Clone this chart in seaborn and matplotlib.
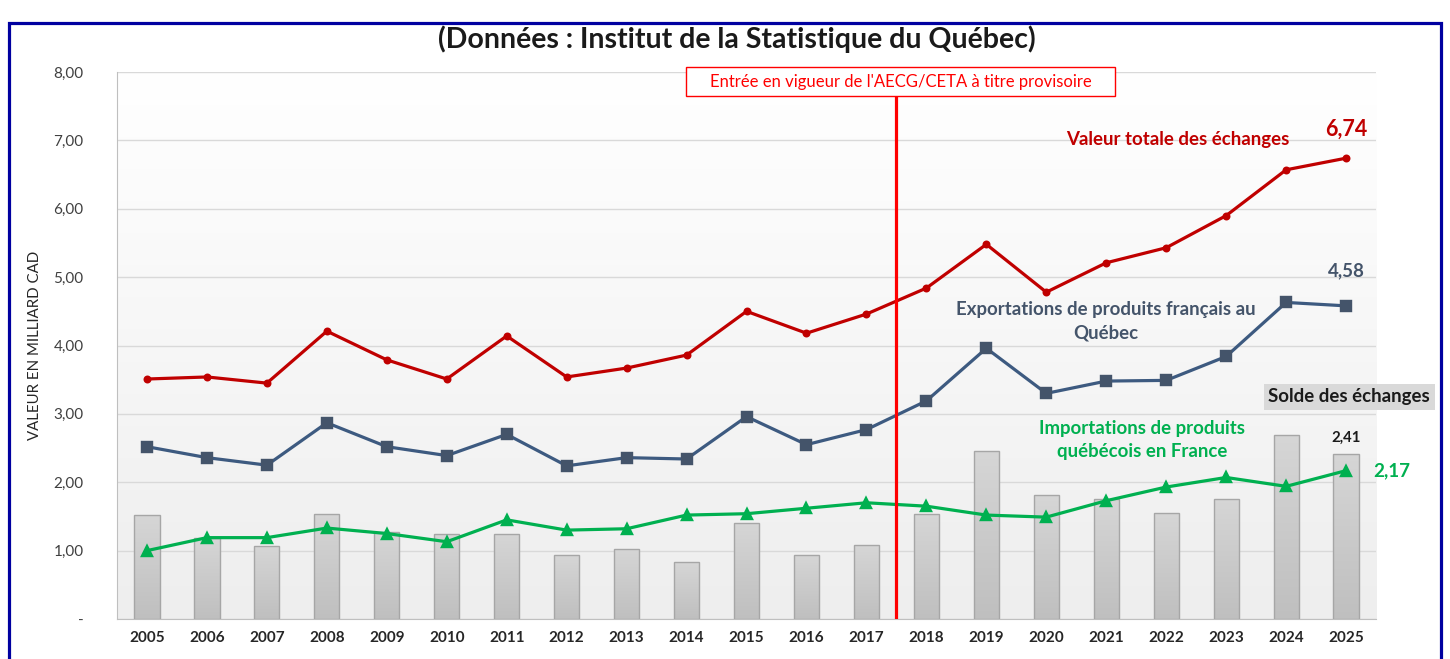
import matplotlib
matplotlib.use("Agg")
import matplotlib.pyplot as plt
import seaborn as sns
import numpy as np
import pandas as pd
from matplotlib.patches import Rectangle
from matplotlib.colors import LinearSegmentedColormap

#---------- Data ----------
years = [2005, 2006, 2007, 2008, 2009, 2010, 2011, 2012, 2013, 2014, 2015,
         2016, 2017, 2018, 2019, 2020, 2021, 2022, 2023, 2024, 2025]
total = [3.51, 3.54, 3.45, 4.21, 3.79, 3.51, 4.14, 3.54, 3.67, 3.86, 4.50,
         4.18, 4.46, 4.84, 5.48, 4.78, 5.21, 5.43, 5.90, 6.57, 6.74]
exports = [2.52, 2.36, 2.25, 2.87, 2.52, 2.39, 2.70, 2.24, 2.36, 2.34, 2.96,
           2.55, 2.77, 3.19, 3.96, 3.30, 3.48, 3.49, 3.84, 4.63, 4.58]
imports = [1.00, 1.19, 1.19, 1.33, 1.25, 1.13, 1.45, 1.30, 1.32, 1.52, 1.54,
           1.62, 1.70, 1.65, 1.52, 1.49, 1.73, 1.93, 2.07, 1.94, 2.17]
solde = [1.52, 1.19, 1.07, 1.54, 1.27, 1.25, 1.25, 0.94, 1.03, 0.83, 1.41,
         0.94, 1.08, 1.54, 2.45, 1.81, 1.75, 1.55, 1.76, 2.69, 2.41]
ytick_vals = [0, 1, 2, 3, 4, 5, 6, 7, 8]
ytick_labels = ["-", "1,00", "2,00", "3,00", "4,00", "5,00", "6,00", "7,00", "8,00"]

df = pd.DataFrame({"Année": years, "Total": total, "Exportations": exports,
                   "Importations": imports, "Solde": solde})

RED = "#c00000"
BLUE = "#3d5a80"
BLUE_MK = "#44546a"
GREEN = "#00b050"

sns.set_style("white")
plt.rcParams["font.family"] = ["Lato", "DejaVu Sans"]

fig = plt.figure(figsize=(14.5, 6.59), dpi=100)
ax = fig.add_axes([0.0807, 0.0607, 0.8683, 0.830])

# background gradient
grad = np.linspace(0, 1, 256).reshape(-1, 1)
ax.imshow(grad, extent=[-0.5, 20.5, 0, 8], aspect="auto",
          cmap=LinearSegmentedColormap.from_list("bg", ["#eeeeee", "#ffffff"]),
          origin="lower", zorder=0)

sns.barplot(data=df, x="Année", y="Solde", color="#c8c8c8", width=0.42,
            edgecolor="#a6a6a6", linewidth=1, saturation=1, ax=ax, zorder=2)

# gradient fill inside the bars
bar_cmap = LinearSegmentedColormap.from_list("bar", ["#bfbfbf", "#d6d6d6"])
for p in list(ax.patches):
    x0, w, h = p.get_x(), p.get_width(), p.get_height()
    im = ax.imshow(grad, extent=[x0, x0 + w, 0, h], aspect="auto", cmap=bar_cmap,
                   origin="lower", zorder=2.5)
    im.set_clip_path(p)
    p.set_zorder(3)
    p.set_facecolor("none")

sns.pointplot(data=df, x="Année", y="Importations", color=GREEN, markers="^",
              markersize=7, linewidth=2.3, errorbar=None, ax=ax, zorder=4)
sns.pointplot(data=df, x="Année", y="Exportations", color=BLUE, markers="s",
              markersize=7, linewidth=2.3, errorbar=None, ax=ax, zorder=4,
              markerfacecolor=BLUE_MK, markeredgecolor=BLUE_MK)
sns.pointplot(data=df, x="Année", y="Total", color=RED, markers="o",
              markersize=4, linewidth=2.3, errorbar=None, ax=ax, zorder=4)

ax.set_xlim(-0.5, 20.5)
ax.set_ylim(0, 8)
ax.set_yticks(ytick_vals, ytick_labels)
ax.grid(axis="y", color="#d9d9d9", linewidth=1, zorder=1)
ax.set_axisbelow(True)
for s in ["top", "right"]:
    ax.spines[s].set_visible(False)
for s in ["left", "bottom"]:
    ax.spines[s].set_color("#bfbfbf")
ax.tick_params(axis="y", length=0, pad=24, labelsize=11, labelcolor="#404040")
ax.tick_params(axis="x", length=0, pad=9, labelsize=11)
for lab in ax.get_xticklabels():
    lab.set_fontweight("bold")
    lab.set_color("#262626")
ax.set_xlabel("")
ax.set_ylabel("VALEUR EN MILLIARD CAD", fontsize=10.8, color="#262626", labelpad=8)

# CETA line + box
ax.axvline(12.5, ymin=0, ymax=7.65 / 8, color="#ff0000", linewidth=2.3, zorder=5)
ax.add_patch(Rectangle((12.57 - 3.58, 7.86 - 0.21), 7.16, 0.42, facecolor="white",
                       edgecolor="#ff0000", linewidth=1, zorder=6, clip_on=False))
ax.text(12.57, 7.86, "Entrée en vigueur de l'AECG/CETA à titre provisoire",
        ha="center", va="center", fontsize=12, color="#ff0000", zorder=7)

# series labels
ax.text(17.2, 7.02, "Valeur totale des échanges", ha="center", va="center",
        fontsize=13.4, fontweight="bold", color=RED)
ax.text(16.0, 4.36, "Exportations de produits français au\nQuébec", ha="center",
        va="center", fontsize=13.4, fontweight="bold", color=BLUE_MK, linespacing=1.45)
ax.text(16.6, 2.62, "Importations de produits\nquébécois en France", ha="center",
        va="center", fontsize=13.4, fontweight="bold", color=GREEN, linespacing=1.45)
ax.text(20.05, 3.25, "Solde des échanges", ha="center", va="center",
        fontsize=13.4, fontweight="bold", color="#1a1a1a", clip_on=False,
        bbox=dict(boxstyle="square,pad=0.25", facecolor="#d9d9d9", edgecolor="none"))

# value labels
last = len(years) - 1
ax.annotate("6,74", (last, total[-1]), xytext=(0, 21), textcoords="offset points",
            ha="center", va="center", fontsize=15.5, fontweight="bold", color=RED)
ax.annotate("4,58", (last, exports[-1]), xytext=(0, 25), textcoords="offset points",
            ha="center", va="center", fontsize=13.5, fontweight="bold", color=BLUE_MK)
ax.annotate("2,41", (last, solde[-1]), xytext=(0, 12), textcoords="offset points",
            ha="center", va="center", fontsize=10.7, fontweight="bold", color="#1a1a1a")
ax.annotate("2,17", (last, imports[-1]), xytext=(33, 0), textcoords="offset points",
            ha="center", va="center", fontsize=13.6, fontweight="bold", color=GREEN,
            annotation_clip=False)

fig.text(0.508, 0.940, "(Données : Institut de la Statistique du Québec)",
         ha="center", va="center", fontsize=20.5, fontweight="bold", color="#1a1a1a")

# outer frame
fig.patches.append(Rectangle((0.0062, -0.02), 0.9876, 1.005 - 0.02, transform=fig.transFigure,
                             fill=False, edgecolor="#0000a0", linewidth=2.3))

fig.savefig("out.png", dpi=100)
